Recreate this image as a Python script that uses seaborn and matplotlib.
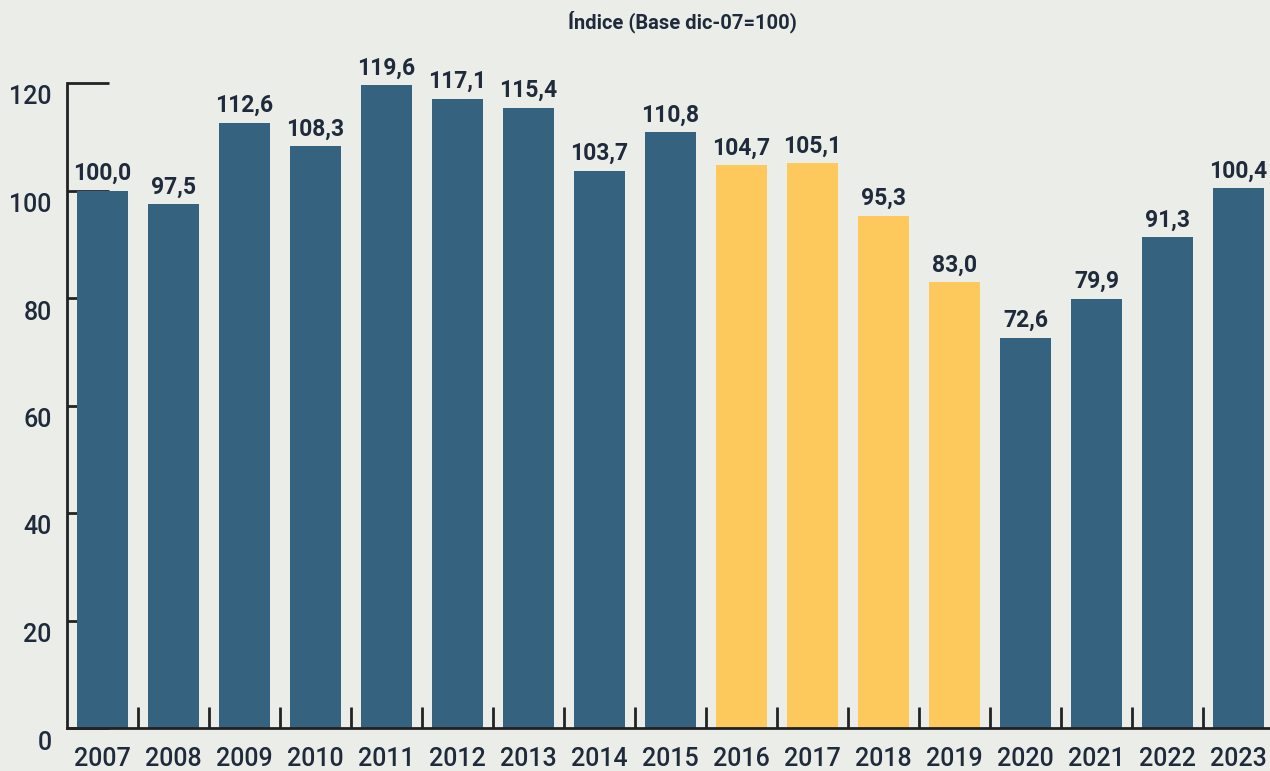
import matplotlib
matplotlib.use("Agg")
import matplotlib.pyplot as plt
import matplotlib.transforms as mtransforms
from matplotlib.ticker import FixedLocator
import numpy as np
import pandas as pd
import seaborn as sns

years = ["2007", "2008", "2009", "2010", "2011", "2012", "2013", "2014", "2015",
         "2016", "2017", "2018", "2019", "2020", "2021", "2022", "2023"]
values = [100.0, 97.5, 112.6, 108.3, 119.6, 117.1, 115.4, 103.7, 110.8,
          104.7, 105.1, 95.3, 83.0, 72.6, 79.9, 91.3, 100.4]
periodo = ["a"] * 9 + ["b"] * 4 + ["a"] * 4
y_ticks = [0, 20, 40, 60, 80, 100, 120]
titulo = "Índice (Base dic-07=100)"

bg = "#EBEDE8"
txt = "#1F2A3A"
colores = {"a": "#34627F", "b": "#FDC95C"}

sns.set_theme(style="white")
plt.rcParams["font.family"] = ["Roboto", "DejaVu Sans"]

df = pd.DataFrame({"year": years, "value": values, "grupo": periodo})

fig = plt.figure(figsize=(12.7, 7.71), dpi=100, facecolor=bg)
ax = fig.add_axes([67 / 1270, 1 - 728 / 771, 1207 / 1270, 645 / 771])
ax.set_facecolor(bg)
ax.set_axisbelow(True)

sns.barplot(data=df, x="year", y="value", hue="grupo", palette=colores,
            dodge=False, legend=False, width=0.73, saturation=1,
            linewidth=0, edgecolor="none", ax=ax)

for cont in ax.containers:
    labels = [f"{v:.1f}".replace(".", ",") for v in cont.datavalues]
    ax.bar_label(cont, labels=labels, padding=4, fontsize=16.5,
                 fontweight="bold", color=txt, clip_on=False)

ax.set_xlim(-0.5, 16.5)
ax.set_ylim(0, 120)
ax.set_xlabel("")
ax.set_ylabel("")

for s in ["top", "right"]:
    ax.spines[s].set_visible(False)
for s in ["left", "bottom"]:
    ax.spines[s].set_color("#222222")
    ax.spines[s].set_linewidth(2)

ax.set_yticks(y_ticks)
ax.tick_params(axis="y", left=True, direction="in", length=30, width=2,
               color="#222222", labelsize=18, labelcolor=txt, pad=11)
for lab in ax.get_yticklabels():
    lab.set_fontweight("medium")
    lab.set_transform(lab.get_transform() +
                      mtransforms.ScaledTranslation(0, -12 / 100, fig.dpi_scale_trans))

ax.tick_params(axis="x", which="major", length=0, labelsize=18, labelcolor=txt, pad=14)
for lab in ax.get_xticklabels():
    lab.set_fontweight("medium")
ax.xaxis.set_minor_locator(FixedLocator(np.arange(0.5, 16, 1)))
ax.tick_params(axis="x", which="minor", direction="in", length=15, width=2,
               color="#222222", bottom=True)

fig.text(0.537, 1 - 22 / 771, titulo, ha="center", va="center",
         fontsize=14.5, fontweight="bold", color=txt)

fig.savefig("out.png", dpi=100, facecolor=bg)
